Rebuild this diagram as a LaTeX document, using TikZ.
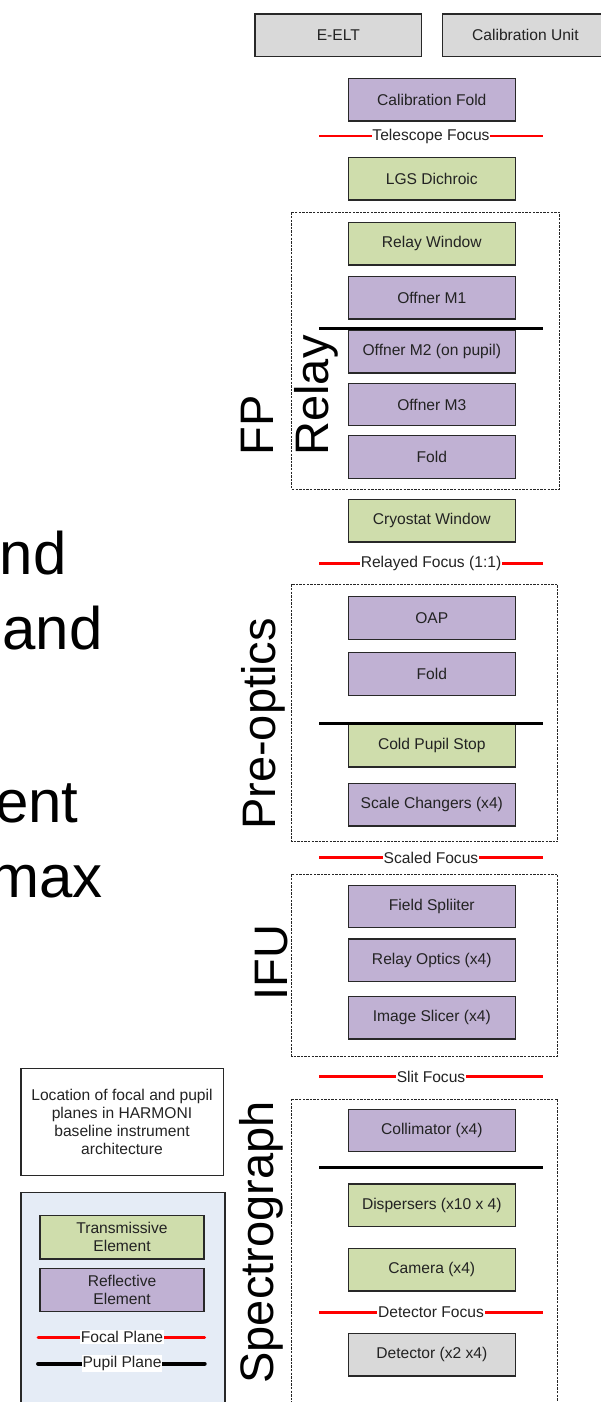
\documentclass[tikz,border=0pt]{standalone}
\usepackage{fontspec}
\setmainfont{Liberation Sans}
\definecolor{refl}{RGB}{192,177,211}
\definecolor{trans}{RGB}{207,221,172}
\definecolor{ext}{RGB}{217,217,217}
\definecolor{legbg}{RGB}{229,236,246}
\definecolor{edge}{RGB}{40,40,40}
\definecolor{txt}{RGB}{35,35,35}

\begin{document}
\begin{tikzpicture}[x=0.5pt,y=-0.5pt,
  box/.style={draw=edge, line width=0.7pt, minimum width=83.5pt, minimum height=21.25pt,
              inner sep=0pt, font=\fontsize{7.8}{9}\selectfont, text=txt, align=center},
  reflbox/.style={box, fill=refl},
  transbox/.style={box, fill=trans},
  extbox/.style={box, fill=ext},
  group/.style={draw=black!85, line width=0.5pt, dash pattern=on 1.2pt off 0.6pt},
  focalline/.style={draw=red, line width=1.4pt},
  pupilline/.style={draw=black, line width=1.4pt},
  planelabel/.style={fill=white, inner xsep=0.4pt, inner ysep=0.6pt,
                     font=\fontsize{7.8}{9}\selectfont, text=txt},
  grouplabel/.style={rotate=90, inner sep=0pt, font=\fontsize{23.5}{27.5}\selectfont},
  bigtext/.style={inner sep=0pt, font=\fontsize{30}{36}\selectfont}
]
\useasboundingbox (0,0) rectangle (600,1402);

% fragments of the slide text on the left
\node[bigtext, anchor=base east] (t1) at (67,574) {nd};
\node[bigtext, anchor=base east] (t2) at (103,649) {and};
\node[bigtext, anchor=base east] (t3) at (79,822) {ent};
\node[bigtext, anchor=base east] (t4) at (103,897) {max};

% sub-system groups
\draw[group] (291.7,212.3) rectangle (559.3,489.3);
\draw[group] (291.7,584.3) rectangle (557.7,841.7);
\draw[group] (291.7,874.3) rectangle (557.7,1056);
\draw[group] (291.7,1099) rectangle (557.7,1430);

\node[grouplabel, anchor=south west, align=left] (gfp) at (339,456) {FP\\Relay};
\node[grouplabel, anchor=base] (gpre) at (275,724) {Pre-optics};
\node[grouplabel, anchor=base] (gifu) at (287,962.5) {IFU};
\node[grouplabel, anchor=base] (gspec) at (273,1242.5) {Spectrograph};

% light sources
\node[extbox, minimum width=83.3pt] (elt) at (338.3,35.4) {E-ELT};
\node[extbox, minimum width=83.3pt] (cal) at (525.5,35.4) {Calibration Unit};

% optical train
\node[reflbox]  (calfold) at (431.8,99.7)  {Calibration Fold};
\node[transbox] (lgs)     at (431.8,178.8) {LGS Dichroic};
\node[transbox] (rwin)    at (431.8,243.7) {Relay Window};
\node[reflbox]  (om1)     at (431.8,297.8) {Offner M1};
\node[reflbox]  (om2)     at (431.8,351.7) {Offner M2 (on pupil)};
\node[reflbox]  (om3)     at (431.8,404.5) {Offner M3};
\node[reflbox]  (fold1)   at (431.8,457)   {Fold};
\node[transbox] (cwin)    at (431.8,520.8) {Cryostat Window};
\node[reflbox]  (oap)     at (431.8,618)   {OAP};
\node[reflbox]  (fold2)   at (431.8,674)   {Fold};
\node[transbox] (cps)     at (431.8,745.7) {Cold Pupil Stop};
\node[reflbox]  (scale)   at (431.8,804.8) {Scale Changers (x4)};
\node[reflbox]  (fsplit)  at (431.8,906.5) {Field Spliiter};
\node[reflbox]  (relopt)  at (431.8,960.2) {Relay Optics (x4)};
\node[reflbox]  (slicer)  at (431.8,1017.7) {Image Slicer (x4)};
\node[reflbox]  (coll)    at (431.8,1130.5) {Collimator (x4)};
\node[transbox] (disp)    at (431.8,1205.2) {Dispersers (x10 x 4)};
\node[transbox] (cam)     at (431.8,1269.8) {Camera (x4)};
\node[extbox]   (det)     at (431.8,1354.8) {Detector (x2 x4)};

% focal planes
\foreach \n/\y/\t in {tf/136/Telescope Focus, rf/563.3/Relayed Focus (1:1),
                      sf/857.7/Scaled Focus, slf/1076.7/Slit Focus,
                      df/1312.3/Detector Focus}{
  \coordinate (\n L) at (319,\y);
  \coordinate (\n R) at (542.7,\y);
  \draw[focalline] (\n L) -- (\n R);
  \node[planelabel] (\n) at (431,\y) {\t};
}

% pupil planes
\foreach \n/\y in {pa/328.3, pb/723.3, pc/1167.3}{
  \coordinate (\n L) at (319,\y);
  \coordinate (\n R) at (542.7,\y);
  \draw[pupilline] (\n L) -- (\n R);
}

% legend
\node[draw=edge, line width=0.6pt, fill=white, minimum width=101.1pt, minimum height=53.7pt,
      inner sep=0pt, align=center, font=\fontsize{7.8}{9}\selectfont, text=txt] (desc)
      at (122,1122) {Location of focal and pupil\\planes in HARMONI\\baseline instrument\\architecture};
\draw[draw=edge, line width=0.6pt, fill=legbg] (20.9,1192.3) rectangle (225,1430);
\node[transbox, minimum width=82pt, minimum height=21.6pt] (ltrans) at (122,1237.3) {Transmissive\\Element};
\node[reflbox, minimum width=82pt, minimum height=21.6pt] (lrefl) at (122,1290) {Reflective\\Element};
\coordinate (lfL) at (38.1,1337.3);
\coordinate (lfR) at (204.7,1337.3);
\draw[focalline, line cap=round] (lfL) -- (lfR);
\node[planelabel] (lf) at (122,1337.3) {Focal Plane};
\coordinate (lpL) at (38.1,1363.7);
\coordinate (lpR) at (204.7,1363.7);
\draw[pupilline, line width=2pt, line cap=round] (lpL) -- (lpR);
\node[planelabel] (lp) at (122,1363.7) {Pupil Plane};
\end{tikzpicture}
\end{document}
